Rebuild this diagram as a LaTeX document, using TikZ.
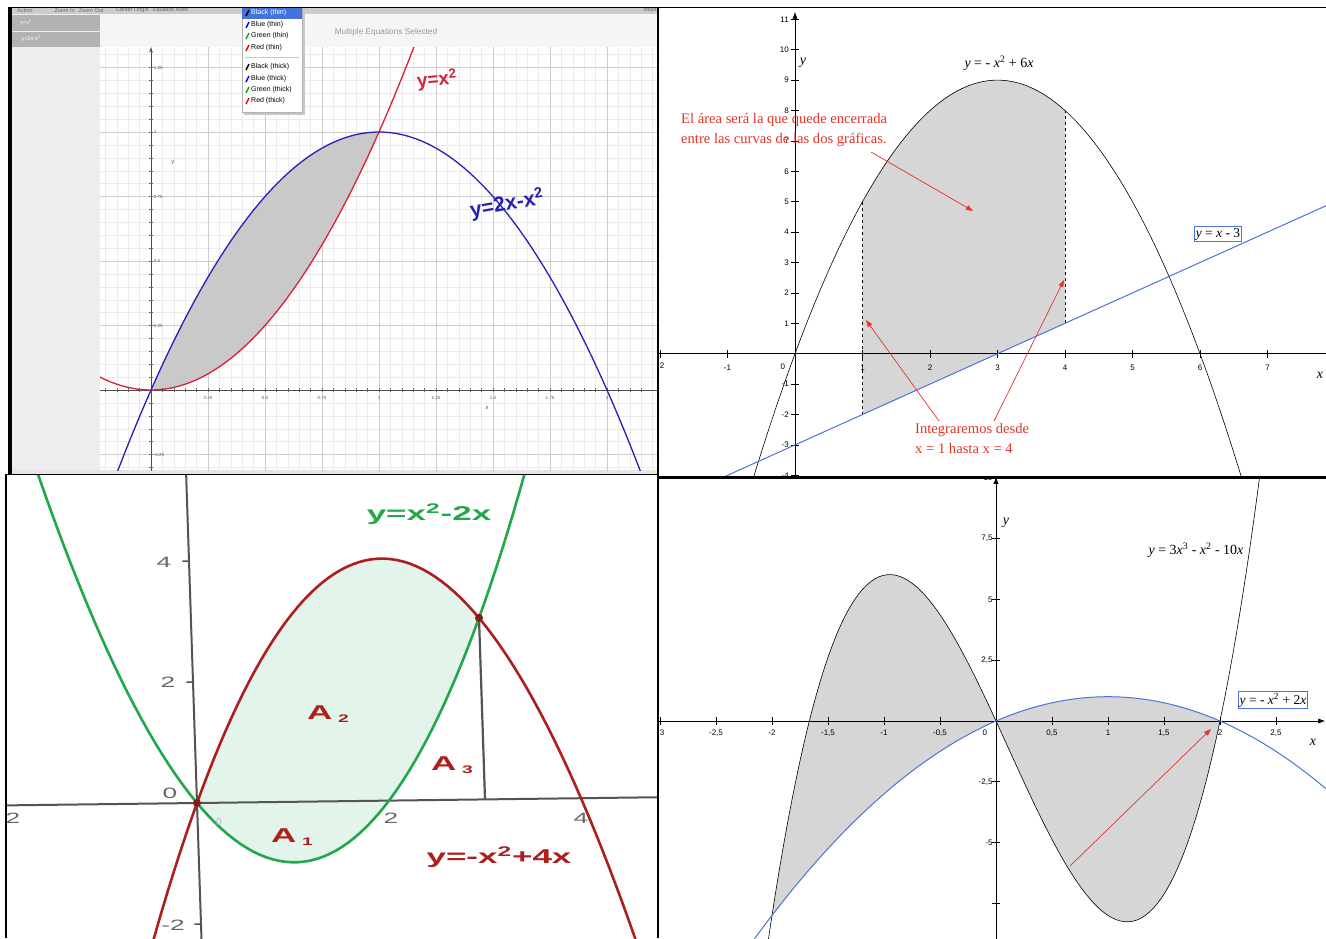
\documentclass[tikz,border=0pt]{standalone}
\usepackage{fontspec}
\setmainfont{Liberation Serif}
\newfontfamily\uisans{Liberation Sans}
\usetikzlibrary{arrows.meta}

\newcommand{\wide}[1]{\scalebox{1.75}[1]{#1}}

\begin{document}
\begin{tikzpicture}[x=1pt,y=-1pt]

  \definecolor{sidecol}{rgb}{0.93,0.93,0.93}
  \definecolor{rowcol}{rgb}{0.70,0.70,0.70}
  \definecolor{barcol}{rgb}{0.80,0.80,0.80}
  \definecolor{menublue}{rgb}{0.27,0.45,0.86}
  \definecolor{gridmaj}{rgb}{0.80,0.80,0.80}
  \definecolor{gridmin}{rgb}{0.92,0.92,0.92}
  \definecolor{graphred}{rgb}{0.86,0.12,0.22}
  \definecolor{graphblue}{rgb}{0.16,0.12,0.70}
  \definecolor{shadecol}{rgb}{0.79,0.79,0.79}
  \definecolor{ggbgray}{rgb}{0.84,0.84,0.84}
  \definecolor{ggbblue}{rgb}{0.30,0.45,0.86}
  \definecolor{notered}{rgb}{0.90,0.20,0.16}
  \definecolor{mint}{rgb}{0.89,0.96,0.92}
  \definecolor{leafgreen}{rgb}{0.13,0.66,0.30}
  \definecolor{darkred}{rgb}{0.68,0.12,0.12}
  \definecolor{axisgray}{rgb}{0.33,0.33,0.33}

  \tikzset{
      tinytxt/.style={font=\uisans\fontsize{4.5}{5}\selectfont,text=black!65,inner sep=0pt},
      bartxt/.style={font=\uisans\fontsize{5.5}{6}\selectfont,text=black!60,inner sep=0pt},
      rowtxt/.style={font=\uisans\fontsize{5.5}{6}\selectfont,text=white,inner sep=0pt},
      menutxt/.style={font=\uisans\fontsize{7}{8}\selectfont,anchor=west,inner sep=0pt},
      handtxt/.style={font=\uisans\bfseries\fontsize{19}{20}\selectfont,inner sep=0pt},
      ggbtick/.style={font=\uisans\fontsize{8}{9}\selectfont,inner sep=0pt},
      ggblabel/.style={font=\fontsize{14}{15}\selectfont,inner sep=0pt},
      boxlabel/.style={draw=ggbblue,line width=0.6pt,inner sep=1.5pt,font=\fontsize{13.5}{14}\selectfont},
      notetxt/.style={font=\fontsize{14.6}{20}\selectfont,text=notered,inner sep=0pt,align=left},
      notearrow/.style={draw=notered,line width=0.7pt,-{Triangle[length=7pt,width=5pt]}},
      boldtxt/.style={font=\uisans\bfseries\fontsize{20}{22}\selectfont,inner sep=0pt},
      geotick/.style={font=\uisans\fontsize{15}{16}\selectfont,text=black!60,inner sep=0pt},
    }

  \useasboundingbox (0,0) rectangle (1326,938);
  \fill[white] (0,0) rectangle (1326,938);

  %% top left: grapher window
  \fill[barcol] (8,7) rectangle (657,14);
  \fill[sidecol] (12,14) rectangle (100,470);
  \fill[rowcol] (12,15) rectangle (100,31);
  \fill[rowcol] (12,32) rectangle (100,47);
  \fill[black!4] (100,14) rectangle (657,47);
  \fill[black!10] (12,470) rectangle (657,474);
  \fill[black] (8,7) rectangle (12,475);
  \node[bartxt] (mnuaction) at (25,10.5) {Action};
  \node[bartxt] (mnuzoom) at (79,10.5) {Zoom In \enspace Zoom Out};
  \node[bartxt] (mnucenter) at (152,10.5) {Center Origin \enspace Equalize Axes};
  \node[bartxt,anchor=east] (mnuinsp) at (657,10.5) {Inspe};
  \node[rowtxt] (roweqa) at (26,23) {y=x\textsuperscript{2}};
  \node[rowtxt] (roweqb) at (31,39) {y=2x-x\textsuperscript{2}};
  \node[font=\uisans\fontsize{8.3}{9}\selectfont,text=black!40] (seltitle) at (386,32) {Multiple Equations Selected};

  \begin{scope}
    \clip (100,47) rectangle (657,470);
    \fill[white] (100,47) rectangle (657,470);
    \begin{scope}[shift={(151,390)},x=228pt,y=258pt]
      \draw[gridmin,line width=0.3pt,step=0.05] (-0.3,-0.35) grid (2.3,1.4);
      \draw[gridmaj,line width=0.6pt,step=0.25] (-0.3,-0.35) grid (2.3,1.4);
      \fill[shadecol] plot[domain=0:1,samples=40] (\x,{2*\x-\x*\x})
        -- plot[domain=1:0,samples=40] (\x,{\x*\x}) -- cycle;
      \draw[black!70,line width=0.6pt] (-0.3,0) -- (2.3,0);
      \draw[black!70,line width=0.6pt,-{Stealth[length=5pt]}] (0,-0.35) -- (0,1.327);
      \foreach \tx in {-0.2,-0.15,...,2.2}
        \draw[black!60,line width=0.3pt] (\tx,-0.008) -- (\tx,0.008);
      \foreach \ty in {-0.3,-0.25,...,1.3}
        \draw[black!60,line width=0.3pt] (-0.009,\ty) -- (0.009,\ty);
      \foreach \tx/\lb in {0.25/0.25,0.5/0.5,0.75/0.75,1/1,1.25/1.25,1.5/1.5,1.75/1.75,2/2}
        \node[tinytxt] (gx\lb) at (\tx,-0.031) {\lb};
      \node[tinytxt] (gxzero) at (-0.012,-0.031) {0};
      \foreach \ty/\lb in {1.25/1.25,1/1,0.75/0.75,0.5/0.5,0.25/0.25,-0.25/-0.25}
        \node[tinytxt,anchor=west] (gy\lb) at (0.012,\ty) {\lb};
      \node[tinytxt,font=\uisans\fontsize{6}{7}\selectfont] (gaxy) at (0.096,0.88) {y};
      \node[tinytxt,font=\uisans\fontsize{6}{7}\selectfont] (gaxx) at (1.474,-0.07) {x};
      \draw[graphred,line width=1.3pt] plot[domain=-0.25:1.16,samples=60] (\x,{\x*\x});
      \draw[graphblue,line width=1.3pt] plot[domain=-0.17:2.17,samples=80] (\x,{2*\x-\x*\x});
    \end{scope}
    \node[handtxt,text=graphred,rotate=6] (lblsq) at (437,80) {y=x\textsuperscript{2}};
    \node[handtxt,text=graphblue,rotate=10,font=\uisans\bfseries\fontsize{21}{22}\selectfont] (lblcap) at (507,204) {y=2x-x\textsuperscript{2}};
  \end{scope}

  % colour menu
  \fill[black!22] (244,9) rectangle (305,115);
  \fill[white] (242,7) rectangle (302,112);
  \draw[black!30,line width=0.4pt] (242,7) rectangle (302,112);
  \fill[menublue] (242,8) rectangle (302,19);
  \draw[black!20,line width=0.5pt] (245,57) -- (299,57);
  \draw[black,line width=1.5pt] (246,16) -- (249,10);
  \node[menutxt,text=white] (itemblackthin) at (251,13) {Black (thin)};
  \foreach \yy/\ic/\lbl/\nm in {25/blue/Blue (thin)/bluethin,36/green!70!black/Green (thin)/greenthin,
      48/red/Red (thin)/redthin,67/black/Black (thick)/blackthick,79/blue/Blue (thick)/bluethick,
      90/green!70!black/Green (thick)/greenthick,101/red/Red (thick)/redthick}
  {
    \draw[\ic,line width=1.5pt] (246,{\yy+3}) -- (249,{\yy-3});
    \node[menutxt] (item\nm) at (251,\yy) {\lbl};
  }

  %% top right: parabola and line
  \begin{scope}
    \clip (659,9) rectangle (1326,476);
    \begin{scope}[shift={(795,353.7)},x=67.5pt,y=30.4pt]
      \fill[ggbgray] plot[domain=1:4,samples=40] (\x,{6*\x-\x*\x})
        -- plot[domain=4:1,samples=2] (\x,{\x-3}) -- cycle;
      \draw[dashed,line width=0.5pt] (1,-2) -- (1,5);
      \draw[dashed,line width=0.5pt] (4,1) -- (4,8);
      \draw[line width=0.9pt] (-2.1,0) -- (8,0);
      \draw[line width=0.9pt,-{Latex[length=7pt]}] (0,-4.3) -- (0,11.25);
      \foreach \tx in {-2,...,7}
        \draw[line width=0.8pt] (\tx,-0.13) -- (\tx,0.13);
      \foreach \ty in {-4,...,11}
        \draw[line width=0.8pt] (-0.06,\ty) -- (0.06,\ty);
      \foreach \tx in {-1,1,2,...,7}
        \node[ggbtick] (pxt\tx) at (\tx,-0.45) {\tx};
      \node[ggbtick] (pxtzero) at (-0.18,-0.42) {0};
      \foreach \ty in {-4,-3,-2,-1,1,2,...,11}
        \node[ggbtick,anchor=east] (pyt\ty) at (-0.09,\ty) {\ty};
      \draw[line width=0.6pt] plot[domain=-0.65:6.65,samples=80] (\x,{6*\x-\x*\x});
      \draw[ggbblue,line width=1pt] plot[domain=-1.2:8,samples=2] (\x,{\x-3});
    \end{scope}
    \node[ggbtick] (pxtcut) at (662,366) {2};
  \end{scope}
  \node[ggblabel] (parlbl) at (999,63) {\textit{y} = - \textit{x}\textsuperscript{2} + 6\textit{x}};
  \node[ggblabel] (paraxy) at (803,63) {\textit{y}};
  \node[ggblabel] (paraxx) at (1320,375) {\textit{x}};
  \node[boxlabel] (linelbl) at (1218,234) {\textit{y} = \textit{x} - 3};
  \node[notetxt,anchor=north west] (areanote) at (681,113) {El área será la que quede encerrada\\entre las curvas de las dos gráficas.};
  \node[notetxt,anchor=north west] (limitnote) at (915,423) {Integraremos desde\\x = 1 hasta x = 4};
  \coordinate (areatail) at (871,152);
  \coordinate (areatip) at (973,211);
  \coordinate (fromtail) at (939,421);
  \coordinate (fromtip) at (866,320);
  \coordinate (totail) at (994,421);
  \coordinate (totip) at (1064,280);
  \draw[notearrow] (areatail) -- (areatip);
  \draw[notearrow] (fromtail) -- (fromtip);
  \draw[notearrow] (totail) -- (totip);

  %% bottom left: two parabolas
  \begin{scope}
    \clip (6,475) rectangle (657,938);
    \begin{scope}[shift={(197,803)},x={(96pt,1.2pt)},y={(-2pt,60.5pt)}]
      \fill[mint] plot[domain=0:3,samples=50] (\x,{4*\x-\x*\x})
        -- plot[domain=3:0,samples=50] (\x,{\x*\x-2*\x}) -- cycle;
      \draw[axisgray,line width=2pt] (-2.1,0) -- (4.9,0);
      \draw[axisgray,line width=2pt] (0,-2.4) -- (0,5.5);
      \foreach \ty in {-2,2,4}
        \draw[axisgray,line width=1.5pt] (-0.07,\ty) -- (0,\ty);
      \draw[axisgray,line width=2.2pt] (3,0) -- (3,3);
      \draw[leafgreen,line width=2.6pt] plot[domain=-1.6:3.6,samples=80] (\x,{\x*\x-2*\x});
      \draw[darkred,line width=2.6pt] plot[domain=-0.6:4.6,samples=80] (\x,{4*\x-\x*\x});
      \fill[darkred!80!black] (0,0) circle[radius=4pt];
      \fill[darkred!80!black] (3,3) circle[radius=4pt];
    \end{scope}
    \node[geotick] (qyt4) at (164,562) {\wide{4}};
    \node[geotick] (qyt2) at (168,682) {\wide{2}};
    \node[geotick] (qyt0) at (170,793) {\wide{0}};
    \node[geotick] (qytm2) at (173,925) {\wide{-2}};
    \node[geotick] (qxt2) at (391,818) {\wide{2}};
    \node[geotick] (qxt4) at (581,818) {\wide{4}};
    \node[geotick] (qxtcut) at (13,818) {\wide{2}};
    \node[geotick,text=black!30,font=\uisans\fontsize{10}{11}\selectfont] (qxt0) at (219,822) {0};
    \node[boldtxt,text=darkred] (areaA2) at (328,714) {\wide{A\,\raisebox{-3pt}{\fontsize{11}{12}\selectfont 2}}};
    \node[boldtxt,text=darkred] (areaA3) at (452,765) {\wide{A\,\raisebox{-3pt}{\fontsize{11}{12}\selectfont 3}}};
    \node[boldtxt,text=darkred] (areaA1) at (292,837) {\wide{A\,\raisebox{-3pt}{\fontsize{11}{12}\selectfont 1}}};
    \node[boldtxt,text=leafgreen] (greenlbl) at (429,514) {\wide{y=x\textsuperscript{2}-2x}};
    \node[boldtxt,text=darkred] (redlbl) at (499,857) {\wide{y=-x\textsuperscript{2}+4x}};
  \end{scope}

  %% bottom right: cubic and parabola
  \begin{scope}
    \clip (659,479) rectangle (1326,938);
    \begin{scope}[shift={(996,721)},x=112pt,y=24.3pt]
      \fill[ggbgray] plot[domain=-2:2,samples=100] (\x,{3*\x*\x*\x-\x*\x-10*\x})
        -- plot[domain=2:-2,samples=80] (\x,{2*\x-\x*\x}) -- cycle;
      \draw[line width=0.9pt,-{Latex[length=7pt]}] (-3.1,0) -- (2.94,0);
      \draw[line width=0.9pt,-{Latex[length=7pt]}] (0,-9.5) -- (0,10.05);
      \foreach \tx in {-3,-2.5,...,2.5}
        \draw[line width=0.8pt] (\tx,-0.16) -- (\tx,0.16);
      \foreach \ty in {-7.5,-5,...,7.5}
        \draw[line width=0.8pt] (-0.035,\ty) -- (0.035,\ty);
      \foreach \tx/\lb/\nm in {-2.5/{-2,5}/a,-2/-2/b,-1.5/{-1,5}/c,-1/-1/d,-0.5/{-0,5}/e,
          0.5/{0,5}/f,1/1/g,1.5/{1,5}/h,2/2/i,2.5/{2,5}/j}
        \node[ggbtick] (cxt\nm) at (\tx,-0.5) {\lb};
      \node[ggbtick] (cxtzero) at (-0.1,-0.5) {0};
      \foreach \ty/\lb/\nm in {10/10/a,7.5/{7,5}/b,5/5/c,2.5/{2,5}/d,-2.5/{-2,5}/e,-5/-5/f}
        \node[ggbtick,anchor=east] (cyt\nm) at (-0.03,\ty) {\lb};
      \draw[line width=0.6pt] plot[domain=-2.05:2.37,samples=120] (\x,{3*\x*\x*\x-\x*\x-10*\x});
      \draw[ggbblue,line width=1pt] plot[domain=-2.2:3,samples=80] (\x,{2*\x-\x*\x});
    \end{scope}
    \node[ggbtick] (cxtcut) at (662,733) {3};
  \end{scope}
  \node[ggblabel] (cubaxy) at (1006,523) {\textit{y}};
  \node[ggblabel] (cubaxx) at (1313,742) {\textit{x}};
  \node[ggblabel] (cublbl) at (1196,550) {\textit{y} = 3\textit{x}\textsuperscript{3} - \textit{x}\textsuperscript{2} - 10\textit{x}};
  \node[boxlabel] (quadlbl) at (1273,700) {\textit{y} = - \textit{x}\textsuperscript{2} + 2\textit{x}};
  \coordinate (roottail) at (1070,866);
  \coordinate (roottip) at (1211,729);
  \draw[notearrow] (roottail) -- (roottip);

  %% panel borders
  \draw[black,line width=1.5pt] (8,7.5) -- (1326,7.5);
  \draw[black,line width=2.5pt] (658,7) -- (658,938);
  \draw[black,line width=3.5pt] (658,477.5) -- (1326,477.5);
  \draw[black,line width=1.2pt] (5,474.5) -- (658,474.5);
  \draw[black,line width=1.2pt] (6,474) -- (6,938);

\end{tikzpicture}
\end{document}
